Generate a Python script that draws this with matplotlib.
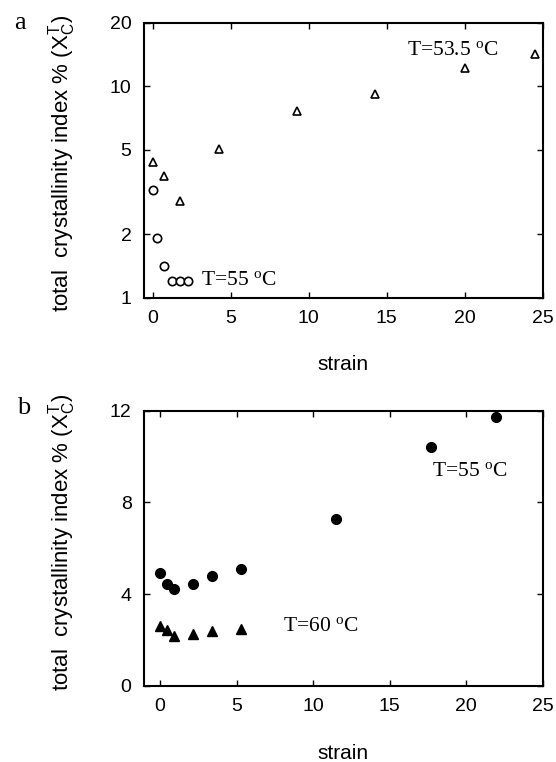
import numpy as np
import matplotlib
matplotlib.use("Agg")
from matplotlib import pyplot as plt

plt.rcParams['font.family'] = ['Liberation Sans', 'DejaVu Sans']
plt.rcParams['mathtext.fontset'] = 'custom'
plt.rcParams['mathtext.rm'] = 'Liberation Sans'
plt.rcParams['mathtext.it'] = 'Liberation Sans:italic'

# panel a: log scale
a_tri_x = [0.0, 0.7, 1.73, 4.23, 9.23, 14.23, 20.0, 24.5]
a_tri_y = [4.37, 3.78, 2.87, 5.05, 7.64, 9.19, 12.2, 14.2]
a_circ_x = [0.0, 0.26, 0.7, 1.22, 1.75, 2.27]
a_circ_y = [3.22, 1.92, 1.42, 1.2, 1.2, 1.2]

# panel b: linear scale
b_circ_x = [0.0, 0.48, 0.92, 2.18, 3.38, 5.29, 11.5, 17.69, 21.98]
b_circ_y = [4.93, 4.43, 4.21, 4.43, 4.81, 5.1, 7.3, 10.4, 11.74]
b_tri_x = [0.0, 0.48, 0.92, 2.18, 3.38, 5.29]
b_tri_y = [2.6, 2.42, 2.18, 2.28, 2.39, 2.49]

ylab = "total  crystallinity index % ($\\mathrm{X}_\\mathrm{C}^\\mathrm{T}$)"
serif = ['Liberation Serif', 'DejaVu Serif']
deg = "$\\mathregular{^o}$C"

fig = plt.figure(figsize=(5.56, 7.62), dpi=100)
ax1 = fig.add_axes([0.259, 0.6093, 0.717, 0.3609])
ax2 = fig.add_axes([0.259, 0.1, 0.717, 0.3609])

ax1.plot(a_tri_x, a_tri_y, '^', ms=5.5, mfc='white', mec='black', mew=1.2)
ax1.plot(a_circ_x, a_circ_y, 'o', ms=6, mfc='white', mec='black', mew=1.2)
ax1.set_yscale('log')
ax1.set_ylim(1, 20)
ax1.set_xlim(-0.55, 25)
ax1.set_yticks([1, 2, 5, 10, 20])
ax1.set_yticklabels(['1', '2', '5', '10', '20'])
ax1.yaxis.set_minor_locator(matplotlib.ticker.NullLocator())
ax1.text(3.1, 1.2, "T=55 " + deg, family=serif, fontsize=15.5, va='center')
ax1.text(16.3, 14.8, "T=53.5 " + deg, family=serif, fontsize=15.5, va='center')

ax2.plot(b_circ_x, b_circ_y, 'o', ms=7, color='black')
ax2.plot(b_tri_x, b_tri_y, '^', ms=6.5, color='black')
ax2.set_ylim(0, 12)
ax2.set_xlim(-1.05, 25)
ax2.set_yticks([0, 4, 8, 12])
ax2.text(17.75, 9.34, "T=55 " + deg, family=serif, fontsize=15.5, va='center')
ax2.text(8.03, 2.57, "T=60 " + deg, family=serif, fontsize=15.5, va='center')

for ax in (ax1, ax2):
    ax.set_xticks([0, 5, 10, 15, 20, 25])
    ax.tick_params(direction='in', top=True, right=True, labelsize=14,
                   length=4, width=1, pad=9)
    for s in ax.spines.values():
        s.set_linewidth(1.5)
    ax.set_ylabel(ylab, fontsize=16)
    ax.set_xlabel("strain", fontsize=15)
    ax.xaxis.set_label_coords(0.5, -0.21)

ax1.yaxis.set_label_coords(-0.165, 0.487)
ax2.yaxis.set_label_coords(-0.165, 0.52)

fig.text(0.025, 0.97, "a", family=serif, fontsize=19, va='center')
fig.text(0.03, 0.465, "b", family=serif, fontsize=19, va='center')

plt.savefig('out.png', dpi=100)
